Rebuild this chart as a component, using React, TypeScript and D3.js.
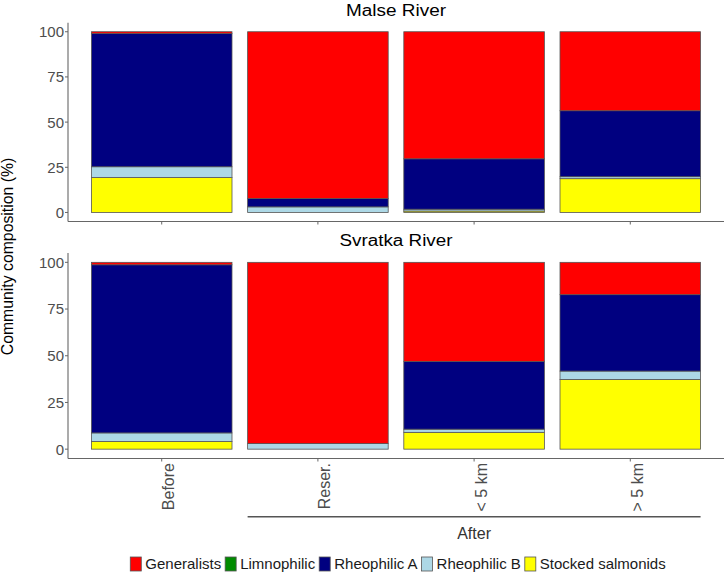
import React, { useEffect, useRef } from "react";
import * as d3 from "d3";

const categories = ["Before", "Reser.", "< 5 km", "> 5 km"];
const groups = ["Generalists", "Limnophilic", "Rheophilic A", "Rheophilic B", "Stocked salmonids"];
const groupColors = ["#FF0000", "#008B00", "#000080", "#ADD8E6", "#FFFF00"];
const rivers = ["Malse River", "Svratka River"];
const yTicks = [0, 25, 50, 75, 100];

// Malse River (%)
const malseGeneralists = [1.0, 92.3, 70.3, 43.7];
const malseLimnophilic = [0, 0, 0, 0];
const malseRheoA = [73.7, 4.6, 27.9, 36.5];
const malseRheoB = [6.0, 3.1, 1.0, 1.1];
const malseStocked = [19.3, 0, 0.8, 18.7];

// Svratka River (%)
const svratkaGeneralists = [1.3, 97.0, 53.0, 17.3];
const svratkaLimnophilic = [0, 0, 0, 0];
const svratkaRheoA = [90.0, 0, 36.3, 40.9];
const svratkaRheoB = [4.6, 3.0, 1.7, 4.5];
const svratkaStocked = [4.1, 0, 9.0, 37.3];

const riverSeries = [
  [malseGeneralists, malseLimnophilic, malseRheoA, malseRheoB, malseStocked],
  [svratkaGeneralists, svratkaLimnophilic, svratkaRheoA, svratkaRheoB, svratkaStocked],
];

const FONT = "'Liberation Sans', Arial, sans-serif";

export default function App() {
  const ref = useRef<SVGSVGElement | null>(null);

  useEffect(() => {
    const svg = d3.select(ref.current);
    svg.selectAll("*").remove();

    const left = 68;
    const right = 724;
    const panels = [
      { top: 22.7, bottom: 221.5, titleY: 16 },
      { top: 253, bottom: 458.5, titleY: 245.7 },
    ];

    const x = d3
      .scaleBand<string>()
      .domain(categories)
      .range([left, right])
      .paddingInner(0.1)
      .paddingOuter(0.15);

    panels.forEach((p, pi) => {
      const y = d3.scaleLinear().domain([-5, 105]).range([p.bottom, p.top]);
      const g = svg.append("g");

      // title
      g.append("text")
        .attr("x", (left + right) / 2)
        .attr("y", p.titleY)
        .attr("text-anchor", "middle")
        .attr("font-family", FONT)
        .attr("font-size", 16)
        .attr("fill", "#000")
        .attr("textLength", pi === 0 ? 100 : 113)
        .attr("lengthAdjust", "spacingAndGlyphs")
        .text(rivers[pi]);

      // data rows
      const rows = categories.map((c, ci) => {
        const o: any = { cat: c };
        groups.forEach((gname, gi) => (o[gname] = riverSeries[pi][gi][ci]));
        return o;
      });
      const stackKeys = [...groups].reverse();
      const stacked = d3.stack<any>().keys(stackKeys)(rows);

      stacked.forEach((layer) => {
        const gi = groups.indexOf(layer.key);
        g.selectAll(null)
          .data(layer.filter((d) => d[1] - d[0] > 0))
          .enter()
          .append("rect")
          .attr("x", (d) => x(d.data.cat)!)
          .attr("width", x.bandwidth())
          .attr("y", (d) => y(d[1]))
          .attr("height", (d) => y(d[0]) - y(d[1]))
          .attr("fill", groupColors[gi])
          .attr("stroke", "#555")
          .attr("stroke-width", 0.8);
      });

      // y axis
      g.append("line")
        .attr("x1", left)
        .attr("x2", left)
        .attr("y1", p.top)
        .attr("y2", p.bottom)
        .attr("stroke", "#666")
        .attr("stroke-width", 1.1);
      yTicks.forEach((t) => {
        g.append("line")
          .attr("x1", left - 3)
          .attr("x2", left)
          .attr("y1", y(t))
          .attr("y2", y(t))
          .attr("stroke", "#666");
        g.append("text")
          .attr("x", left - 4)
          .attr("y", y(t))
          .attr("dy", "0.36em")
          .attr("text-anchor", "end")
          .attr("font-family", FONT)
          .attr("font-size", 15)
          .attr("fill", "#4d4d4d")
          .text(String(t));
      });

      // x axis
      g.append("line")
        .attr("x1", left)
        .attr("x2", right)
        .attr("y1", p.bottom)
        .attr("y2", p.bottom)
        .attr("stroke", "#666")
        .attr("stroke-width", 1.1);
      categories.forEach((c) => {
        const cx = x(c)! + x.bandwidth() / 2;
        g.append("line")
          .attr("x1", cx)
          .attr("x2", cx)
          .attr("y1", p.bottom)
          .attr("y2", p.bottom + 3)
          .attr("stroke", "#666");
        if (pi === 1) {
          g.append("text")
            .attr("transform", `translate(${cx + 12.5},${p.bottom + 4.5}) rotate(-90)`)
            .attr("text-anchor", "end")
            .attr("font-family", FONT)
            .attr("font-size", 16)
            .attr("fill", "#4d4d4d")
            .text(c);
        }
      });
    });

    // "After" bracket
    const x0 = x(categories[1])!;
    const x1 = x(categories[3])! + x.bandwidth();
    svg
      .append("line")
      .attr("x1", x0)
      .attr("x2", x1)
      .attr("y1", 516.7)
      .attr("y2", 516.7)
      .attr("stroke", "#555")
      .attr("stroke-width", 1.5);
    svg
      .append("text")
      .attr("x", (x0 + x1) / 2)
      .attr("y", 539)
      .attr("text-anchor", "middle")
      .attr("font-family", FONT)
      .attr("font-size", 16)
      .attr("fill", "#333")
      .text("After");

    // y axis title
    svg
      .append("text")
      .attr("transform", `translate(12.5,256.5) rotate(-90)`)
      .attr("text-anchor", "middle")
      .attr("font-family", FONT)
      .attr("font-size", 15.8)
      .attr("fill", "#000")
      .text("Community composition (%)");

    // legend
    const lg = svg.append("g");
    const keyW = 11;
    const keyH = 14;
    const cy = 564;
    const items: { w: number }[] = [];
    const texts = groups.map((gname) =>
      lg
        .append("text")
        .attr("font-family", FONT)
        .attr("font-size", 15)
        .attr("fill", "#1a1a1a")
        .attr("y", cy)
        .attr("dy", "0.36em")
        .text(gname)
    );
    texts.forEach((t) => items.push({ w: (t.node() as SVGTextElement).getComputedTextLength() }));
    const total = items.reduce((s, it) => s + keyW + 4 + it.w + 4, 0) - 4;
    let cx = 398 - total / 2;
    groups.forEach((gname, gi) => {
      lg.append("rect")
        .attr("x", cx)
        .attr("y", cy - keyH / 2)
        .attr("width", keyW)
        .attr("height", keyH)
        .attr("fill", groupColors[gi])
        .attr("stroke", "#555")
        .attr("stroke-width", 0.8);
      texts[gi].attr("x", cx + keyW + 4);
      cx += keyW + 4 + items[gi].w + 4;
    });
  }, []);

  return (
    <div style={{ position: "fixed", left: 0, top: 0 }}>
      <svg ref={ref} width={726} height={574} style={{ display: "block", background: "#fff" }} />
    </div>
  );
}
